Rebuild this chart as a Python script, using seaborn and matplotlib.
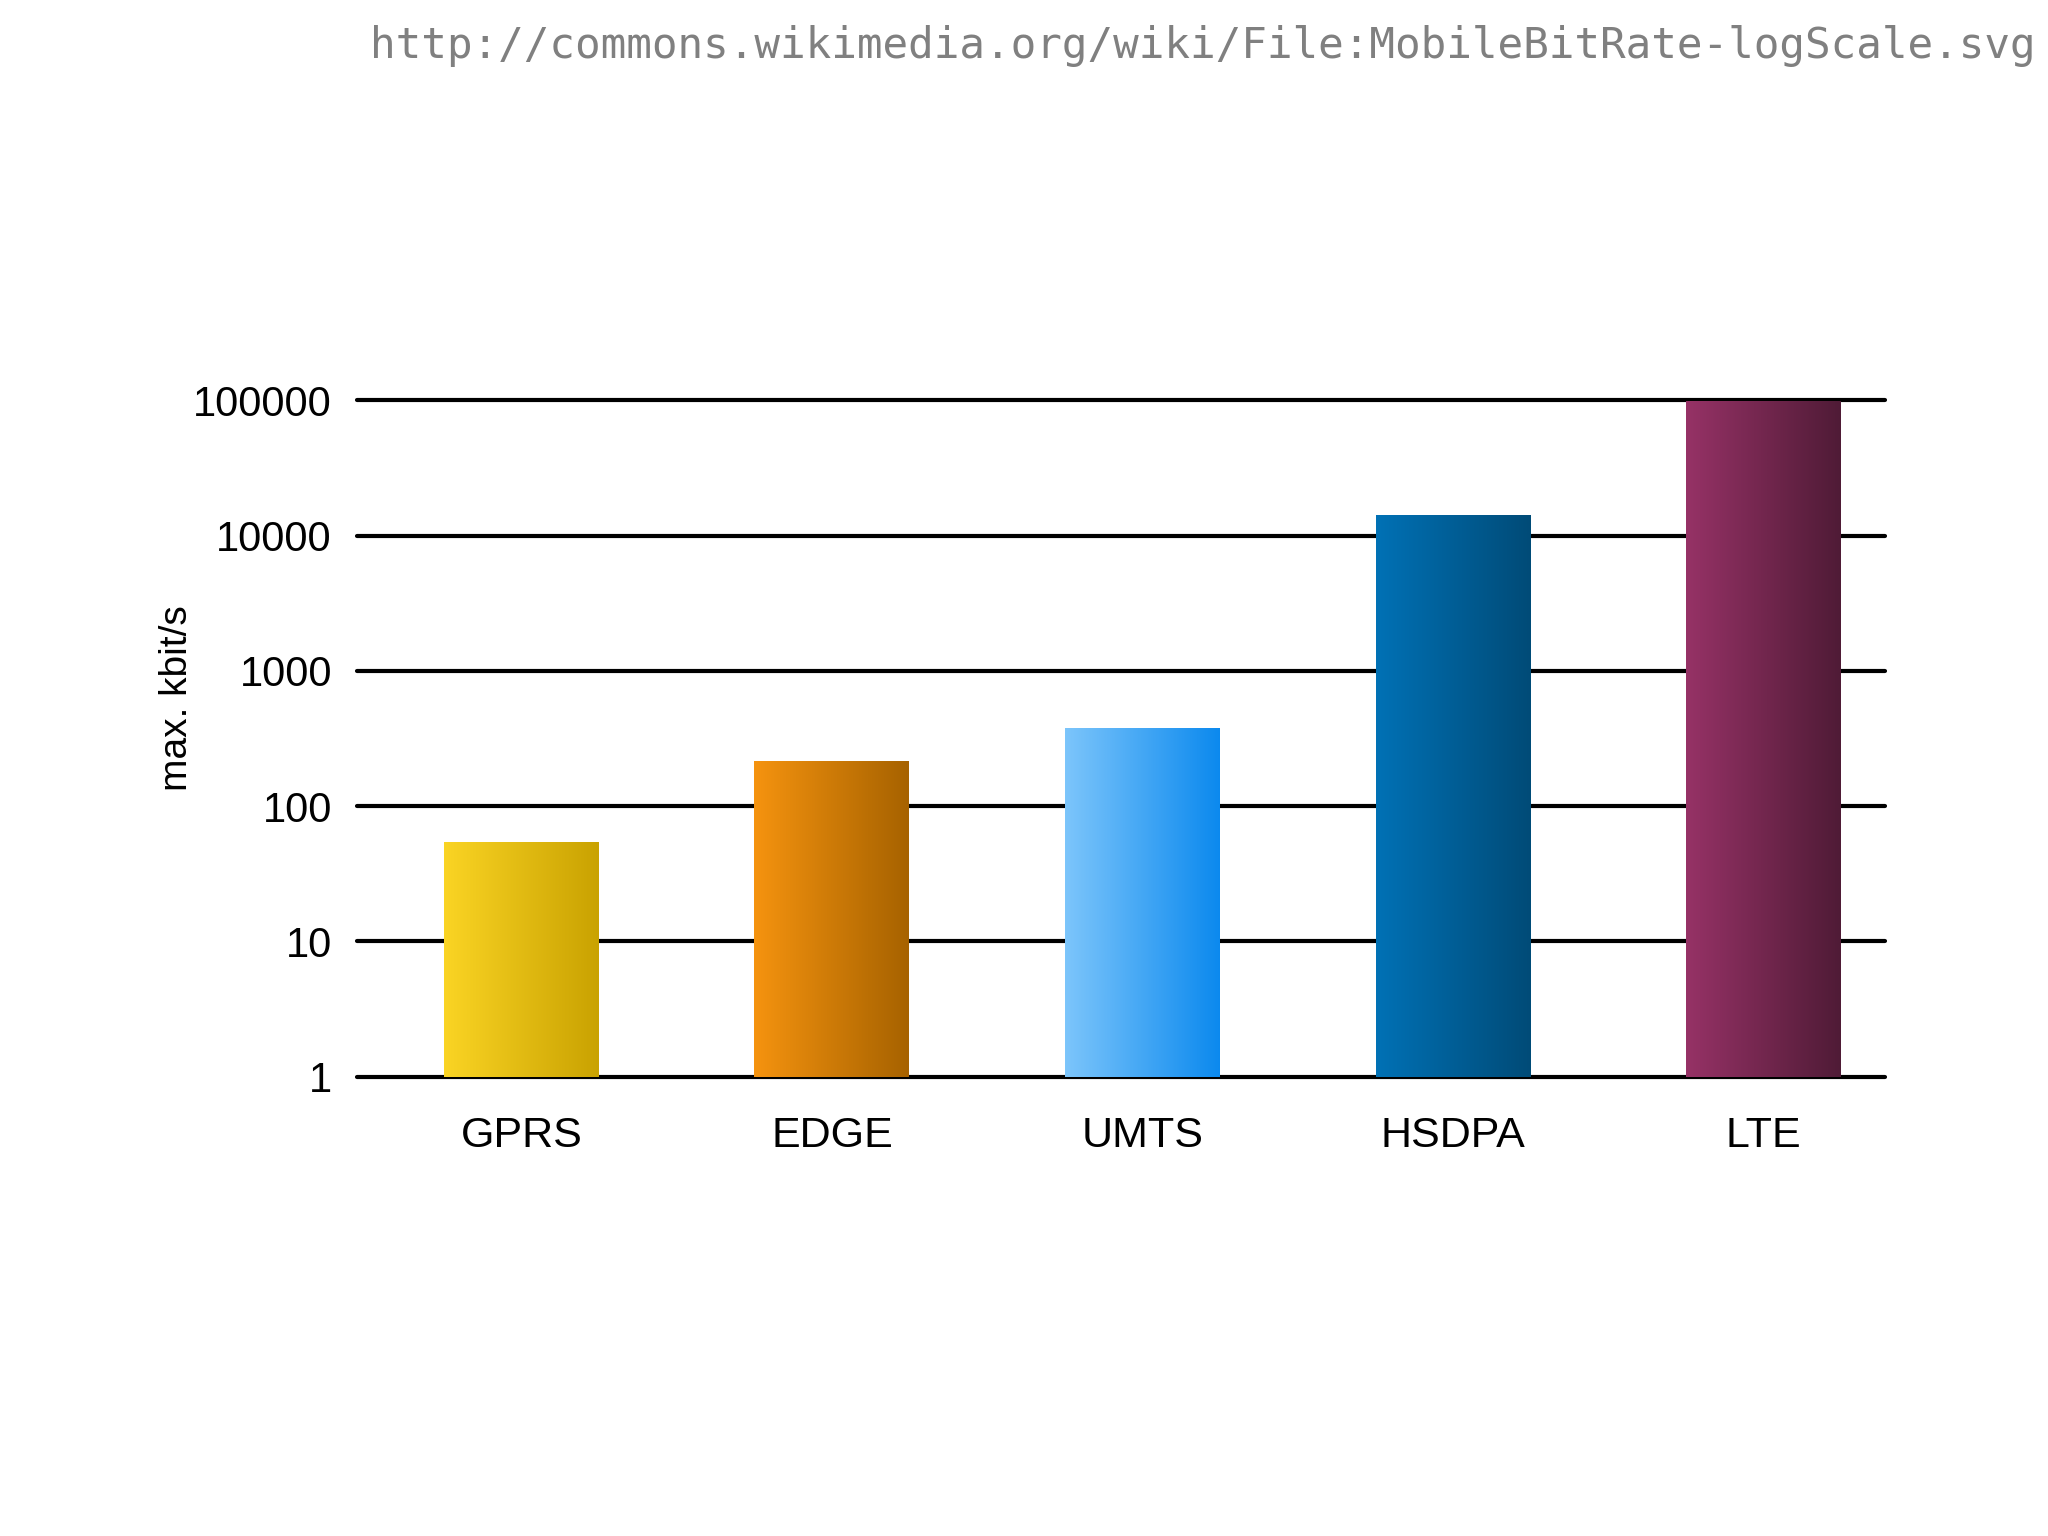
import numpy as np
import pandas as pd
import matplotlib
matplotlib.use("Agg")
import matplotlib.pyplot as plt
import matplotlib.colors as mcolors
import seaborn as sns

# ---- data ----
categories = ["GPRS", "EDGE", "UMTS", "HSDPA", "LTE"]
max_kbits = [55, 220, 384, 14400, 100000]
ytick_values = [1, 10, 100, 1000, 10000, 100000]
ytick_labels = ["1", "10", "100", "1000", "10000", "100000"]
grad_left = ["#FAD424", "#F5930F", "#7CC5FB", "#0071B5", "#963266"]
grad_right = ["#C9A201", "#A66200", "#0B89EE", "#004B77", "#4F1B36"]
url_text = "http://commons.wikimedia.org/wiki/File:MobileBitRate-logScale.svg"

df = pd.DataFrame({"tech": categories, "kbit": max_kbits})

sns.set_theme(style="white")
plt.rcParams["font.family"] = ["Liberation Sans", "DejaVu Sans"]

fig = plt.figure(figsize=(20.48, 15.36), dpi=100)
fig.patch.set_facecolor("white")
ax = fig.add_axes([0.1743, 0.2990, 0.7460, 0.4403])
ax.set_facecolor("white")

sns.barplot(data=df, x="tech", y="kbit", hue="tech", legend=False,
            palette=dict(zip(categories, grad_left)), width=0.5,
            ax=ax, log_scale=(False, True), zorder=3)

# gradient fills on bars
for patch, v, cl, cr in zip(ax.patches, max_kbits, grad_left, grad_right):
    x0 = patch.get_x()
    w = patch.get_width()
    c1 = np.array(mcolors.to_rgb(cl))
    c2 = np.array(mcolors.to_rgb(cr))
    t = np.linspace(0, 1, 256)[:, None]
    grad = (c1 * (1 - t) + c2 * t)[None, :, :]
    ax.imshow(grad, extent=(x0, x0 + w, 1, v), aspect="auto",
              interpolation="bilinear", zorder=3, origin="lower")
    patch.set_facecolor("none")
    patch.set_edgecolor("none")

for yv in ytick_values:
    ax.axhline(yv, color="black", lw=3, zorder=1, clip_on=False)

ax.set_xlim(-0.53, 4.39)
ax.set_ylim(1, 100000)
ax.set_yticks(ytick_values)
ax.set_yticklabels(ytick_labels)
ax.minorticks_off()
ax.yaxis.set_minor_locator(matplotlib.ticker.NullLocator())
ax.tick_params(axis="y", length=0, pad=18, labelsize=30, labelcolor="black")
ax.tick_params(axis="x", length=0, pad=28, labelsize=31, labelcolor="black")
for s in ax.spines.values():
    s.set_visible(False)

ax.set_xlabel("")
ax.set_ylabel("max. kbit/s", fontsize=28, color="black")
ax.yaxis.label.set_va("center")
ax.yaxis.set_label_coords(-0.118, 0.56)

fig.text(0.994, 0.970, url_text, ha="right", va="center",
         family=["DejaVu Sans Mono"], fontsize=30.7, color="#808080")

fig.savefig("out.png", dpi=100, facecolor="white")
